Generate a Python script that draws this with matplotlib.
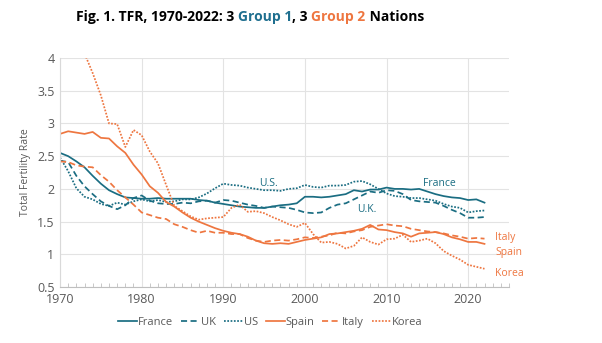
import matplotlib
matplotlib.use('Agg')
import matplotlib.pyplot as plt
from matplotlib.ticker import MultipleLocator

plt.rcParams['font.family'] = ['Open Sans', 'DejaVu Sans']

years = list(range(1970, 2023))

france = [2.55, 2.50, 2.42, 2.33, 2.20, 2.08, 1.98, 1.92, 1.87, 1.86,
          1.85, 1.85, 1.86, 1.85, 1.85, 1.85, 1.85, 1.83, 1.82, 1.79,
          1.77, 1.75, 1.73, 1.72, 1.71, 1.71, 1.73, 1.75, 1.76, 1.78,
          1.88, 1.88, 1.87, 1.88, 1.90, 1.92, 1.98, 1.96, 1.99, 1.99,
          2.02, 2.00, 2.00, 1.99, 2.00, 1.96, 1.92, 1.89, 1.87, 1.86,
          1.83, 1.84, 1.79]
uk = [2.43, 2.41, 2.20, 2.04, 1.92, 1.81, 1.74, 1.69, 1.75, 1.86,
      1.90, 1.82, 1.78, 1.77, 1.77, 1.79, 1.78, 1.81, 1.82, 1.79,
      1.83, 1.82, 1.79, 1.76, 1.74, 1.71, 1.73, 1.72, 1.71, 1.68,
      1.64, 1.63, 1.64, 1.71, 1.76, 1.78, 1.84, 1.90, 1.96, 1.94,
      1.98, 1.97, 1.92, 1.83, 1.81, 1.80, 1.79, 1.74, 1.68, 1.63,
      1.56, 1.56, 1.57]
us = [2.48, 2.27, 2.01, 1.88, 1.84, 1.77, 1.74, 1.79, 1.76, 1.81,
      1.84, 1.81, 1.83, 1.80, 1.81, 1.84, 1.84, 1.87, 1.93, 2.01,
      2.08, 2.06, 2.05, 2.02, 2.00, 1.98, 1.98, 1.97, 2.00, 2.01,
      2.06, 2.03, 2.02, 2.05, 2.05, 2.06, 2.11, 2.12, 2.07, 2.00,
      1.93, 1.89, 1.88, 1.86, 1.86, 1.84, 1.82, 1.77, 1.73, 1.71,
      1.64, 1.66, 1.67]
spain = [2.84, 2.88, 2.86, 2.84, 2.87, 2.78, 2.77, 2.65, 2.55, 2.37,
         2.22, 2.04, 1.94, 1.80, 1.73, 1.64, 1.56, 1.50, 1.45, 1.40,
         1.36, 1.33, 1.31, 1.27, 1.21, 1.17, 1.16, 1.17, 1.16, 1.19,
         1.22, 1.24, 1.26, 1.31, 1.32, 1.34, 1.36, 1.39, 1.45, 1.38,
         1.37, 1.34, 1.32, 1.27, 1.32, 1.33, 1.34, 1.31, 1.26, 1.23,
         1.19, 1.19, 1.16]
italy = [2.42, 2.41, 2.36, 2.34, 2.33, 2.21, 2.11, 1.98, 1.87, 1.76,
         1.64, 1.60, 1.56, 1.54, 1.46, 1.42, 1.37, 1.33, 1.36, 1.33,
         1.33, 1.31, 1.31, 1.25, 1.21, 1.19, 1.21, 1.22, 1.21, 1.23,
         1.26, 1.25, 1.27, 1.29, 1.33, 1.32, 1.35, 1.37, 1.42, 1.44,
         1.46, 1.44, 1.43, 1.39, 1.37, 1.35, 1.34, 1.32, 1.29, 1.27,
         1.24, 1.25, 1.24]
korea = [4.53, 4.54, 4.12, 4.07, 3.77, 3.43, 3.00, 2.99, 2.64, 2.90,
         2.82, 2.57, 2.39, 2.06, 1.74, 1.66, 1.58, 1.53, 1.55, 1.56,
         1.57, 1.71, 1.76, 1.65, 1.66, 1.63, 1.57, 1.52, 1.46, 1.42,
         1.48, 1.31, 1.18, 1.19, 1.16, 1.09, 1.13, 1.26, 1.19, 1.15,
         1.23, 1.24, 1.30, 1.19, 1.21, 1.24, 1.17, 1.05, 0.98, 0.92,
         0.84, 0.81, 0.78]

teal = '#1a6d82'
orange = '#ee7640'
gray = '#595959'

fig = plt.figure(figsize=(6.02, 3.43), dpi=100)
ax = fig.add_axes([0.0997, 0.163, 0.7458, 0.668])

lw = 1.25
ax.plot(years, france, color=teal, lw=lw, label='France')
ax.plot(years, uk, color=teal, lw=lw, ls=(0, (3.5, 2)), label='UK')
ax.plot(years, us, color=teal, lw=lw, ls=(0, (1, 0.9)), label='US')
ax.plot(years, spain, color=orange, lw=lw, label='Spain')
ax.plot(years, italy, color=orange, lw=lw, ls=(0, (3.5, 2)), label='Italy')
ax.plot(years, korea, color=orange, lw=lw, ls=(0, (1, 0.9)), label='Korea')

ax.set_xlim(1970, 2025)
ax.set_ylim(0.5, 4)
ax.xaxis.set_major_locator(MultipleLocator(10))
ax.xaxis.set_minor_locator(MultipleLocator(1))
ax.yaxis.set_major_locator(MultipleLocator(0.5))
ax.yaxis.set_major_formatter(matplotlib.ticker.FuncFormatter(lambda v, p: ('%g' % v)))
ax.grid(True, which='major', color='#e3e3e3', lw=0.8)
ax.set_axisbelow(True)
for s in ['top', 'right']:
    ax.spines[s].set_visible(False)
ax.spines['left'].set_color('#d9d9d9')
ax.spines['bottom'].set_color('#bfbfbf')
ax.tick_params(axis='both', which='major', length=0, labelsize=9, labelcolor=gray, pad=4)
ax.tick_params(axis='x', which='minor', direction='in', length=3, color='#bfbfbf')
ax.tick_params(axis='y', which='minor', length=0)
ax.set_ylabel('Total Fertility Rate', fontsize=7.5, color=gray, labelpad=4)

# line labels
ax.text(1995.5, 2.09, 'U.S.', color=teal, fontsize=7.5, ha='center', va='center')
ax.text(2016.5, 2.09, 'France', color=teal, fontsize=7.5, ha='center', va='center')
ax.text(2007.6, 1.69, 'U.K.', color=teal, fontsize=7.5, ha='center', va='center')
ax.text(2023.3, 1.25, 'Italy', color=orange, fontsize=7.5, ha='left', va='center')
ax.text(2023.3, 1.03, 'Spain', color=orange, fontsize=7.5, ha='left', va='center')
ax.text(2023.3, 0.71, 'Korea', color=orange, fontsize=7.5, ha='left', va='center')

fig.legend(loc='center', bbox_to_anchor=(0.449, 0.06), ncol=6, frameon=False,
           fontsize=8, labelcolor=gray, handlelength=1.7, handletextpad=0.1,
           columnspacing=0.7)

# title with coloured words
parts = [('Fig. 1. TFR, 1970-2022: 3 ', 'black'), ('Group 1', '#1f6f8f'),
         (', 3 ', 'black'), ('Group 2', orange), (' Nations', 'black')]
renderer = fig.canvas.get_renderer()
texts = []
for s, c in parts:
    t = fig.text(0, 0.95, s, color=c, fontsize=10, fontweight='bold',
                 ha='left', va='center')
    texts.append(t)
widths = [t.get_window_extent(renderer).width for t in texts]
total = sum(widths)
x0 = 250 - total / 2
for t, w in zip(texts, widths):
    t.set_x(x0 / fig.bbox.width)
    x0 += w

fig.savefig('out.png', dpi=100)
